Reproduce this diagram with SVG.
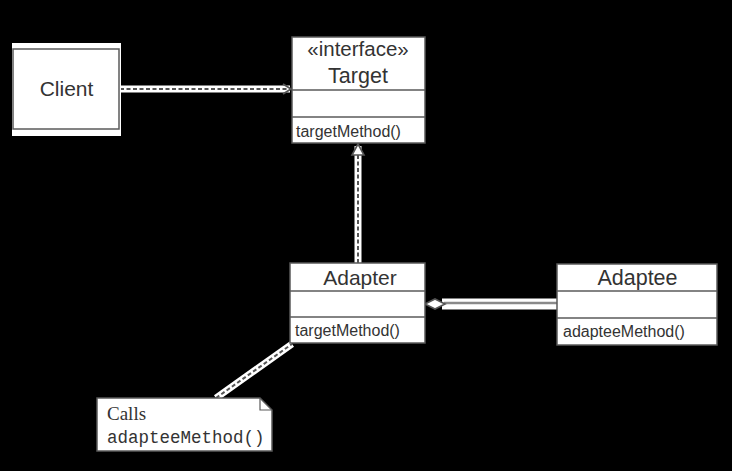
<svg xmlns="http://www.w3.org/2000/svg" width="732" height="471" viewBox="0 0 732 471">
<style>
.box{fill:#fff;stroke:#5a5a5a;stroke-width:1.5}
.div{stroke:#5a5a5a;stroke-width:1.5}
.t{font-family:"Liberation Sans",Arial,sans-serif;fill:#333}
.halo{stroke:#fff;stroke-width:7;fill:none}
.dash{stroke:#555;stroke-width:2;stroke-dasharray:4 2.5;fill:none}
.solid{stroke:#8a8a8a;stroke-width:2.5;fill:none}
</style>
<defs>
<marker id="open" markerWidth="12" markerHeight="12" refX="10" refY="6" orient="auto" markerUnits="userSpaceOnUse">
<path d="M2,1 L10,6 L2,11" fill="none" stroke="#555" stroke-width="1.8"/>
</marker>
</defs>
<rect width="732" height="471" fill="#000"/>
<g id="connectors">
<line class="halo" x1="120" y1="89" x2="290" y2="89"/>
<line class="dash" x1="120" y1="89" x2="291" y2="89" marker-end="url(#open)"/>
<line class="halo" x1="358" y1="146" x2="358" y2="263"/>
<line class="dash" x1="358" y1="155" x2="358" y2="263"/>
<path d="M358,144 L352,155 L364,155 Z" fill="#fff" stroke="#555" stroke-width="1.6"/>
<line x1="442" y1="304" x2="557" y2="304" stroke="#fff" stroke-width="11"/>
<line class="solid" x1="444" y1="303" x2="557" y2="303"/>
<path d="M425,304 L435,299 L445,304 L435,309 Z" fill="#fff" stroke="#555" stroke-width="1.6"/>
<line class="halo" x1="216" y1="398" x2="292" y2="344"/>
<line class="dash" x1="216" y1="398" x2="292" y2="344"/>
</g>
<g id="client">
<rect x="12" y="43" width="109" height="93" fill="#fff"/>
<rect class="box" x="13" y="49" width="106" height="80"/>
<text class="t" x="66.5" y="96" font-size="21" text-anchor="middle">Client</text>
</g>
<g id="target">
<rect class="box" x="292" y="37" width="133" height="106"/>
<line class="div" x1="292" y1="90" x2="425" y2="90"/>
<line class="div" x1="292" y1="117" x2="425" y2="117"/>
<text class="t" x="358" y="56" font-size="20.5" text-anchor="middle">«interface»</text>
<text class="t" x="358" y="83" font-size="21.5" text-anchor="middle">Target</text>
<text class="t" x="296" y="137" font-size="16">targetMethod()</text>
</g>
<g id="adapter">
<rect class="box" x="290" y="263" width="135" height="80"/>
<line class="div" x1="290" y1="291" x2="425" y2="291"/>
<line class="div" x1="290" y1="317" x2="425" y2="317"/>
<text class="t" x="360" y="285" font-size="21" text-anchor="middle">Adapter</text>
<text class="t" x="295" y="336" font-size="16">targetMethod()</text>
</g>
<g id="adaptee">
<rect class="box" x="557" y="264" width="160" height="81"/>
<line class="div" x1="557" y1="291" x2="717" y2="291"/>
<line class="div" x1="557" y1="318" x2="717" y2="318"/>
<text class="t" x="637.5" y="285" font-size="21.5" text-anchor="middle">Adaptee</text>
<text class="t" x="563" y="337" font-size="16">adapteeMethod()</text>
</g>
<g id="note">
<path d="M97,398 L260,398 L272,410 L272,451 L97,451 Z" fill="#fff" stroke="#5a5a5a" stroke-width="1.5"/>
<path d="M260,398 L260,410 L272,410" fill="none" stroke="#5a5a5a" stroke-width="1.2"/>
<text x="107" y="420" font-size="19" font-family="'Liberation Serif','Times New Roman',serif" fill="#333">Calls</text>
<text x="107" y="443" font-size="17.5" font-family="'Liberation Mono','DejaVu Sans Mono',monospace" fill="#333">adapteeMethod()</text>
</g>
</svg>
